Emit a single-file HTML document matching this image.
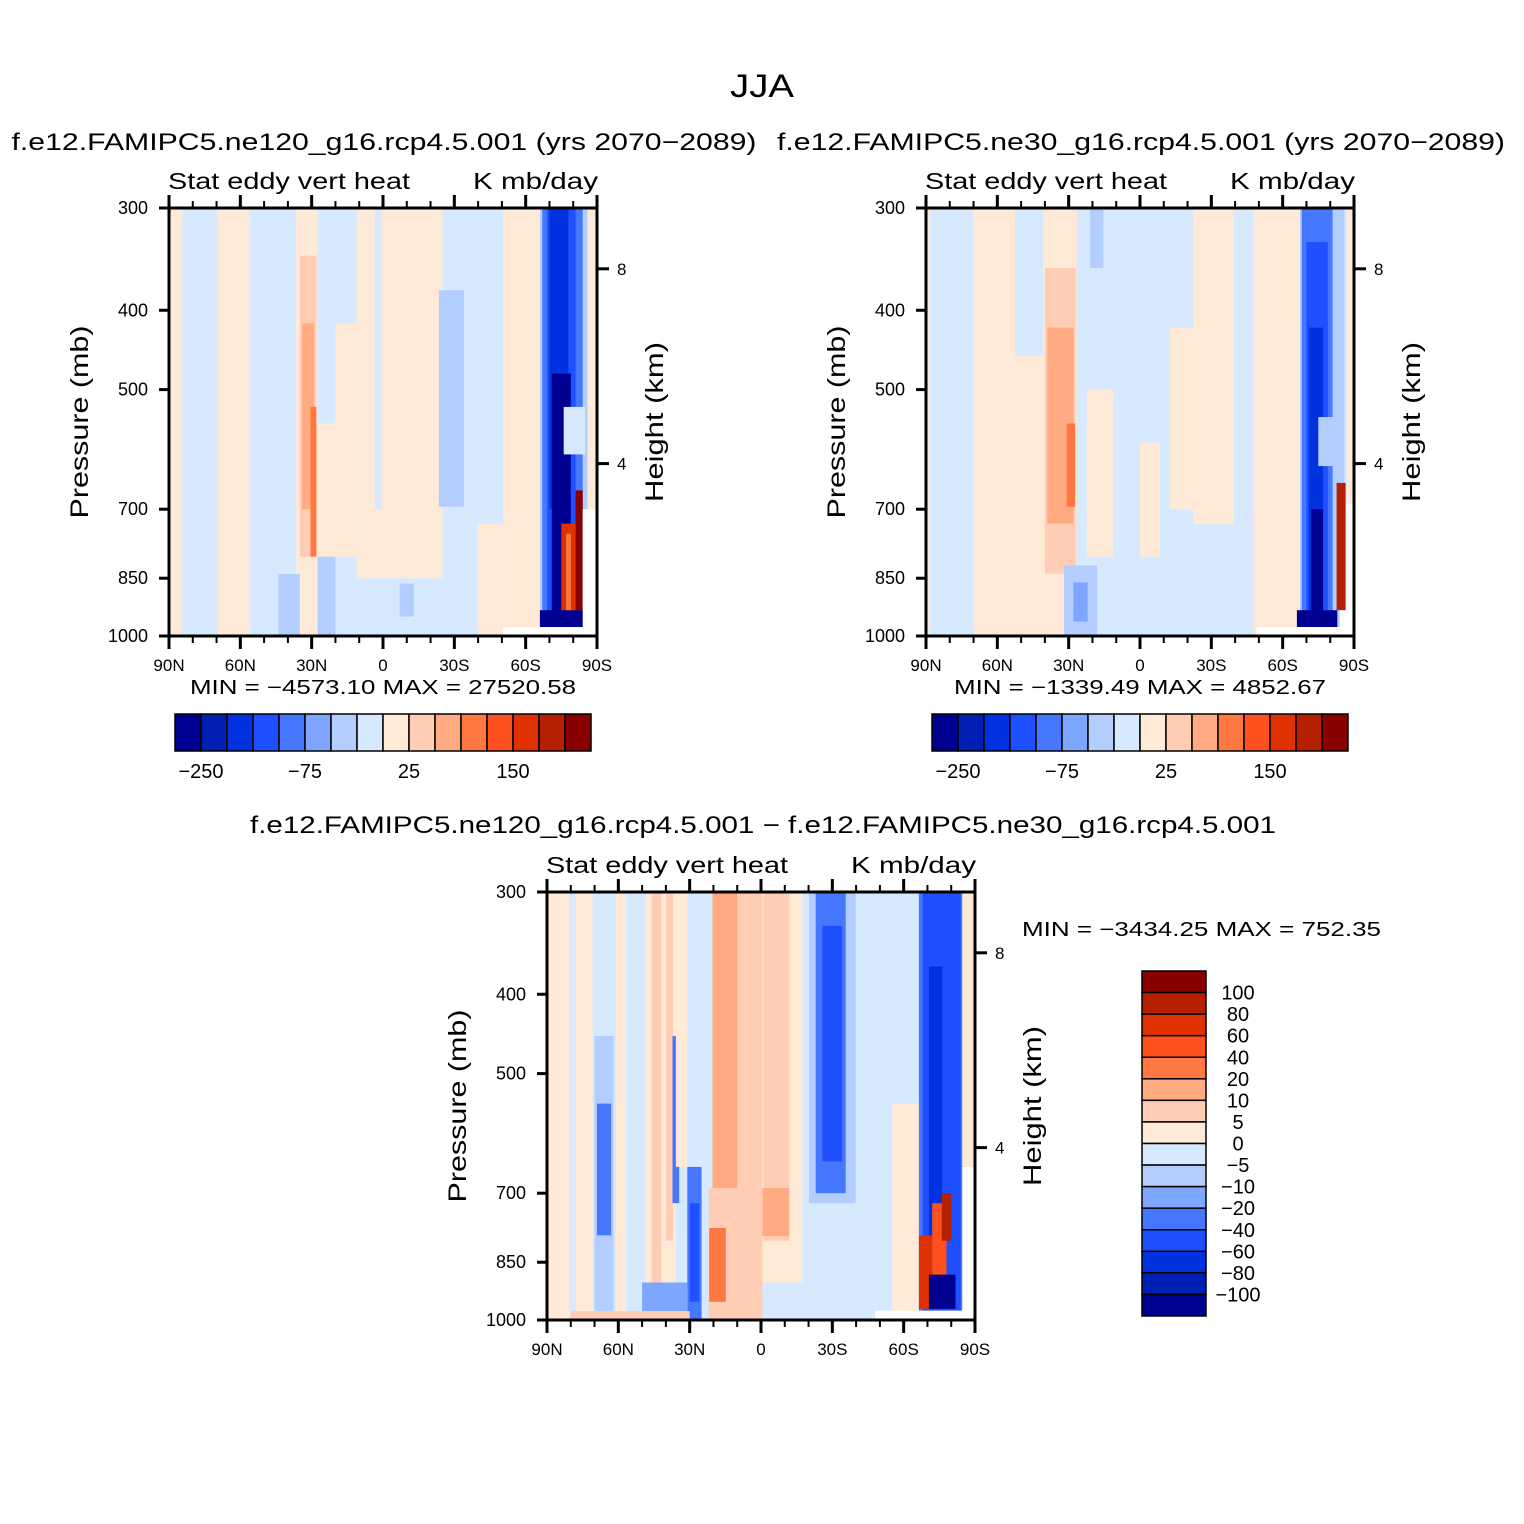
<!DOCTYPE html>
<html><head><meta charset="utf-8">
<style>
html,body{margin:0;padding:0;background:#fff;}
svg{display:block;font-family:"Liberation Sans",sans-serif;}
</style></head>
<body>
<svg id="fig" width="1524" height="1524" viewBox="0 0 1524 1524" xmlns="http://www.w3.org/2000/svg">
<rect x="0" y="0" width="1524" height="1524" fill="#fff"/>
<text x="762" y="97" font-size="32" text-anchor="middle" textLength="64" lengthAdjust="spacingAndGlyphs">JJA</text>
<text x="384" y="150" font-size="24" text-anchor="middle" textLength="745" lengthAdjust="spacingAndGlyphs">f.e12.FAMIPC5.ne120_g16.rcp4.5.001 (yrs 2070−2089)</text>
<text x="1141" y="150" font-size="24" text-anchor="middle" textLength="728" lengthAdjust="spacingAndGlyphs">f.e12.FAMIPC5.ne30_g16.rcp4.5.001 (yrs 2070−2089)</text>
<text x="763" y="833" font-size="24" text-anchor="middle" textLength="1026" lengthAdjust="spacingAndGlyphs">f.e12.FAMIPC5.ne120_g16.rcp4.5.001 − f.e12.FAMIPC5.ne30_g16.rcp4.5.001</text>
<g id="panels"></g>
</svg>
<script>
// Colour table (16 classes)
const colors = ['#000090','#0020B4','#0032E0','#1E50FF','#4678FF','#7FA6FF','#B4CDFF','#D7E9FF','#FFEAD8','#FFCDB4','#FFAA80','#FF7842','#FF501E','#E03200','#B42000','#8A0000'];
// contour levels
const levelsAbs = [-250,-200,-150,-100,-75,-50,-25,0,25,50,75,100,150,200,250];
const levelsDiff = [-100,-80,-60,-40,-20,-10,-5,0,5,10,20,40,60,80,100];
const absTickLabels = ['−250','−75','25','150'];
const diffTickLabels = ['100','80','60','40','20','10','5','0','−5','−10','−20','−40','−60','−80','−100'];
const latTicks = [90,60,30,0,-30,-60,-90];
const latTickLabels = ['90N','60N','30N','0','30S','60S','90S'];
const presTicks = [300,400,500,700,850,1000];
const heightTicks = [8,4];
// regions: [lat north, lat south, p top, p bottom, value]
const panel1Regions = [
[90,-90,300,1000,-10],[90,84.5,300,1000,10],[69.5,56,300,1000,10],[36.5,27.5,300,1000,10],
[35,28,343,800,35],[34,29,415,700,60],[30.5,28,525,800,90],[44,35,840,1000,-35],
[27.5,11,550,800,10],[20,11,415,550,10],[11,-25,300,850,10],[3.5,0.5,300,700,-10],
[27.5,20,800,1000,-35],[-7,-13,863,947,-35],[-23.5,-34,378,695,-35],[-40,-50.5,729,1000,10],
[-50.5,-66,300,1000,10],[-66,-86,300,975,-35],[-67,-84,300,975,-90],[-69,-81,300,975,-120],
[-70,-78,300,700,-170],[-71,-79,478,975,-300],[-66,-85,930,975,-300],[-76,-85,525,600,-10],
[-75,-81,729,930,170],[-81,-84,664,930,300],[-77,-79,750,930,90],[-86,-90,300,700,10],
[-84,-90,700,1000,NaN],[-50.5,-90,975,1000,NaN]
];
const panel2Regions = [
[90,-90,300,1000,-10],[90,88.3,300,1000,10],[70.1,52.6,300,1000,10],[52.6,40.6,455,1000,10],
[40.6,26.6,300,1000,10],[40,27,355,839,35],[39,28,420,729,60],[30.8,27.3,550,695,90],
[21,15.4,300,355,-35],[22.4,11.2,500,800,10],[32,18,820,1000,-35],[28,22,860,960,-60],
[0,-8.4,580,800,10],[-12.6,-22.4,420,700,10],[-22.4,-39.3,300,730,10],[-47.7,-67.3,300,1000,10],
[-67.3,-86,300,975,-35],[-68,-81,300,975,-90],[-70,-79,330,975,-120],[-71,-77,420,975,-170],
[-72,-77,700,930,-300],[-66,-83,930,975,-300],[-75,-84,540,620,-35],[-82.7,-86.5,650,930,200],
[-86.9,-90,300,690,10],[-86.9,-90,690,1000,NaN],[-84,-90,930,1000,NaN],[-49,-90,975,1000,NaN]
];
const panel3Regions = [
[90,-90,300,1000,-2],[90,70.8,300,1000,2],[80.6,77.8,300,1000,-2],[70,62,450,1000,-7],
[69,63,544,788,-30],[61,56.8,300,1000,2],[48.4,35.8,300,1000,2],[46,42,300,900,7],
[40,37,300,800,7],[37.2,34.4,450,720,-30],[35.8,31,300,650,2],[31,25,650,1000,-30],
[30,26,720,950,-50],[50,31,900,985,-15],[20.4,9.9,300,690,15],[22,9.9,690,1000,7],
[21.8,14.8,772,950,30],[9.9,-0.6,300,1000,7],[-0.6,-17.4,300,900,2],[-1,-12,300,800,7],
[-0.6,-11.8,690,790,15],[-20.2,-39.8,300,720,-7],[-23,-35.6,300,700,-30],[-25.8,-34.2,330,640,-50],
[-55.2,-66.4,544,1000,2],[-66.4,-86,300,975,-30],[-68,-84,300,975,-50],[-70.6,-76.2,370,900,-70],
[-66.4,-72,788,969,70],[-72,-78,720,900,50],[-76,-80,700,800,90],[-70.6,-81.8,880,969,-150],
[80,30,975,1000,7],[-84.6,-90,300,650,2],[-84.6,-90,650,1000,NaN],[-48,-90,974,1000,NaN]
];

const NS = 'http://www.w3.org/2000/svg';
const root = document.getElementById('panels');
function mk(tag, attrs, parent, txt){
  const e = document.createElementNS(NS, tag);
  for (const k in attrs) e.setAttribute(k, attrs[k]);
  if (txt !== undefined) e.textContent = txt;
  (parent || root).appendChild(e);
  return e;
}
function colorOf(v, levels){
  if (isNaN(v)) return '#ffffff';
  let i = 0; while (i < levels.length && v >= levels[i]) i++;
  return colors[i];
}
const W = 428, H = 428;
const SCALE_H = 7.3, P0 = 1065;

function drawPanel(id, ox, oy, regions, levels){
  const g = mk('g', {});
  
  
  const xOf = lat => ox + (90 - lat) / 180 * W;
  const yOf = p => oy + Math.log(p / 300) / Math.log(1000 / 300) * H;
  const zOf = km => yOf(P0 * Math.exp(-km / SCALE_H));
  regions.forEach((r, i) => {
    const x0 = xOf(r[0]), x1 = xOf(r[1]), y0 = yOf(r[2]), y1 = yOf(r[3]);
    const el = mk('rect', {x: x0.toFixed(1), y: y0.toFixed(1), width: (x1 - x0).toFixed(1), height: (y1 - y0).toFixed(1), fill: colorOf(r[4], levels)}, g);
    
    
  });
  const fr = mk('rect', {x: ox, y: oy, width: W, height: H, fill: 'none', stroke: '#000', 'stroke-width': 3}, g);
  
  
  for (let lat = 90; lat >= -90; lat -= 10) {
    const major = lat % 30 === 0;
    const len = major ? 13 : 7, x = xOf(lat);
    const t1 = mk('line', {x1: x, x2: x, y1: oy, y2: oy - len, stroke: '#000', 'stroke-width': major ? 3 : 2}, g);
    
    
    const t2 = mk('line', {x1: x, x2: x, y1: oy + H, y2: oy + H + len, stroke: '#000', 'stroke-width': major ? 3 : 2}, g);
    
    
  }
  latTicks.forEach((lat, i) => {
    const t = mk('text', {x: xOf(lat), y: oy + H + 35, 'font-size': 17, 'text-anchor': 'middle'}, g, latTickLabels[i]);
    
    
  });
  presTicks.forEach(p => {
    const y = yOf(p);
    const l = mk('line', {x1: ox - 10, x2: ox, y1: y, y2: y, stroke: '#000', 'stroke-width': 3}, g);
    
    
    const t = mk('text', {x: ox - 21, y: y + 6, 'font-size': 18, 'text-anchor': 'end'}, g, String(p));
    
    
  });
  heightTicks.forEach(km => {
    const y = zOf(km);
    const l = mk('line', {x1: ox + W, x2: ox + W + 12, y1: y, y2: y, stroke: '#000', 'stroke-width': 3}, g);
    
    
    const t = mk('text', {x: ox + W + 20, y: y + 6, 'font-size': 17}, g, String(km));
    
    
  });
  const a = mk('text', {x: ox - 1, y: oy - 19, 'font-size': 23, textLength: 242, lengthAdjust: 'spacingAndGlyphs'}, g, 'Stat eddy vert heat');
  
  
  const b = mk('text', {x: ox + W + 1, y: oy - 19, 'font-size': 23, 'text-anchor': 'end', textLength: 125, lengthAdjust: 'spacingAndGlyphs'}, g, 'K mb/day');
  
  
  const cy = oy + H / 2;
  const py = mk('text', {x: 0, y: 0, 'font-size': 25, 'text-anchor': 'middle', transform: `translate(${ox - 81},${cy}) rotate(-90)`, textLength: 193, lengthAdjust: 'spacingAndGlyphs'}, g, 'Pressure (mb)');
  
  
  const hy = mk('text', {x: 0, y: 0, 'font-size': 25, 'text-anchor': 'middle', transform: `translate(${ox + W + 66},${cy}) rotate(-90)`, textLength: 160, lengthAdjust: 'spacingAndGlyphs'}, g, 'Height (km)');
  
  
}

function hColorbar(id, x0, y0){
  const g = mk('g', {});
  
  
  const bw = 26;
  colors.forEach((c, i) => {
    const r = mk('rect', {x: x0 + i * bw, y: y0, width: bw, height: 37, fill: c, stroke: '#000', 'stroke-width': 1.5}, g);
    
    
  });
  absTickLabels.forEach((s, i) => {
    const t = mk('text', {x: x0 + bw * (i * 4 + 1), y: y0 + 64, 'font-size': 20, 'text-anchor': 'middle'}, g, s);
    
    
  });
}
function vColorbar(x0, y0){
  const g = mk('g', {});
  
  
  const bh = 345 / 16;
  colors.slice().reverse().forEach((c, i) => {
    const r = mk('rect', {x: x0, y: y0 + i * bh, width: 64, height: bh, fill: c, stroke: '#000', 'stroke-width': 1.5}, g);
    
    
  });
  diffTickLabels.forEach((s, i) => {
    const t = mk('text', {x: 1238, y: y0 + bh * (i + 1) + 7, 'font-size': 20, 'text-anchor': 'middle'}, g, s);
    
    
  });
}

drawPanel('panel1', 169, 208, panel1Regions, levelsAbs);
drawPanel('panel2', 926, 208, panel2Regions, levelsAbs);
drawPanel('diff', 547, 892, panel3Regions, levelsDiff);
hColorbar('panel1-colorbar', 175, 714);
hColorbar('panel2-colorbar', 932, 714);
vColorbar(1142, 971);

const m1 = mk('text', {x: 383, y: 694, 'font-size': 20, 'text-anchor': 'middle', textLength: 386, lengthAdjust: 'spacingAndGlyphs'}, root, 'MIN = −4573.10   MAX = 27520.58');


const m2 = mk('text', {x: 1140, y: 694, 'font-size': 20, 'text-anchor': 'middle', textLength: 372, lengthAdjust: 'spacingAndGlyphs'}, root, 'MIN = −1339.49   MAX = 4852.67');


const m3 = mk('text', {x: 1022, y: 936, 'font-size': 20, textLength: 359, lengthAdjust: 'spacingAndGlyphs'}, root, 'MIN = −3434.25   MAX = 752.35');


</script>
</body></html>
